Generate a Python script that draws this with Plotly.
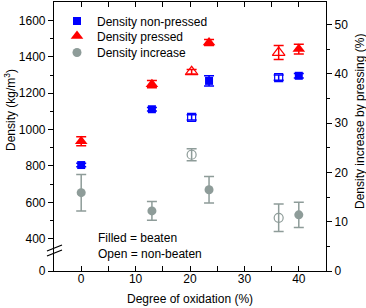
import plotly.graph_objects as go

# ---------------- data ----------------
x_beaten = [0, 13, 23.5, 40]
x_nonbeaten = [20.3, 36.3]

dens_np_beaten = [805, 1112, 1268, 1296]
dens_np_beaten_err = [10, 10, 28, 12]
dens_np_non = [1067, 1286]
dens_np_non_err = [14, 14]

dens_p_beaten = [936, 1250, 1479, 1443]
dens_p_beaten_err = [25, 20, 16, 27]
dens_p_non = [1318, 1424]
dens_p_non_err = [12, 38]

inc_beaten = [15.9, 12.2, 16.5, 11.4]
inc_beaten_err = [3.7, 1.9, 2.7, 2.55]
inc_non = [23.6, 10.8]
inc_non_err = [1.2, 2.8]

left_tickvals = [222, 400, 600, 800, 1000, 1200, 1400, 1600]
left_ticktext = ["0", "400", "600", "800", "1000", "1200", "1400", "1600"]

BLUE = "#0000FF"
RED = "#FF0000"
GREY = "#8E9C99"
FONT = "Liberation Sans, Arial, sans-serif"

def eb(arr, color):
    return dict(type="data", array=arr, visible=True, color=color, thickness=1.5, width=5)

L, R, T, B = 54, 326, 2, 271
W, H = R - L, B - T
def px(x):
    return (x - L) / W
def py(y):
    return (B - y) / H

fig = go.Figure()

# non-pressed
fig.add_trace(go.Scatter(x=x_beaten, y=dens_np_beaten, mode="markers", name="Density non-pressed",
                         legend="legend",
                         marker=dict(symbol="square", size=8, color=BLUE),
                         error_y=eb(dens_np_beaten_err, BLUE)))
fig.add_trace(go.Scatter(x=x_nonbeaten, y=dens_np_non, mode="markers", showlegend=False,
                         marker=dict(symbol="square-open", size=8, color=BLUE, line=dict(width=1.2)),
                         error_y=eb(dens_np_non_err, BLUE)))
# pressed
fig.add_trace(go.Scatter(x=x_beaten, y=dens_p_beaten, mode="markers", name="Density pressed",
                         legend="legend2",
                         marker=dict(symbol="triangle-up", size=11, color=RED),
                         error_y=eb(dens_p_beaten_err, RED)))
fig.add_trace(go.Scatter(x=x_nonbeaten, y=dens_p_non, mode="markers", showlegend=False,
                         marker=dict(symbol="triangle-up-open", size=11, color=RED, line=dict(width=1.2)),
                         error_y=eb(dens_p_non_err, RED)))
# increase
fig.add_trace(go.Scatter(x=x_beaten, y=inc_beaten, mode="markers", name="Density increase", yaxis="y2",
                         legend="legend3",
                         marker=dict(symbol="circle", size=9, color=GREY),
                         error_y=eb(inc_beaten_err, GREY)))
fig.add_trace(go.Scatter(x=x_nonbeaten, y=inc_non, mode="markers", showlegend=False, yaxis="y2",
                         marker=dict(symbol="circle-open", size=9, color=GREY, line=dict(width=1.2)),
                         error_y=eb(inc_non_err, GREY)))

shapes = [
    dict(type="line", xref="paper", yref="paper", x0=px(47), y0=py(251), x1=px(62), y1=py(245),
         line=dict(color="black", width=1.2)),
    dict(type="line", xref="paper", yref="paper", x0=px(47), y0=py(256), x1=px(62), y1=py(250),
         line=dict(color="black", width=1.2)),
]

def leg(top_px):
    return dict(x=px(57), y=py(top_px), xanchor="left", yanchor="top", bgcolor="rgba(0,0,0,0)",
                font=dict(size=12), itemwidth=30)

fig.update_layout(
    width=366, height=308,
    margin=dict(l=L, r=366 - R, t=T, b=308 - B),
    paper_bgcolor="white", plot_bgcolor="white",
    font=dict(family=FONT, size=12, color="black"),
    showlegend=True,
    legend=leg(6.5), legend2=leg(21.5), legend3=leg(38),
    xaxis=dict(range=[-5, 45], tickvals=[0, 10, 20, 30, 40], showline=True, linecolor="black",
               linewidth=1.2, mirror="allticks", ticks="inside", ticklen=5, tickcolor="black",
               showgrid=False, zeroline=False, ticklabelstandoff=-4,
               minor=dict(tickvals=[5, 15, 25, 35], ticks="inside", ticklen=3, tickcolor="black")),
    yaxis=dict(range=[222, 1702], tickvals=left_tickvals, ticktext=left_ticktext, showline=True,
               linecolor="black", linewidth=1.2, ticks="outside", ticklen=5, tickcolor="black",
               showgrid=False, zeroline=False,
               minor=dict(tickvals=[500, 700, 900, 1100, 1300, 1500], ticks="outside", ticklen=3,
                          tickcolor="black")),
    yaxis2=dict(range=[0, 54.6], overlaying="y", side="right", tickvals=[0, 10, 20, 30, 40, 50],
                showline=True, linecolor="black", linewidth=1.2, ticks="outside", ticklen=5,
                tickcolor="black", showgrid=False, zeroline=False,
                minor=dict(tickvals=[5, 15, 25, 35, 45], ticks="outside", ticklen=3, tickcolor="black")),
    shapes=shapes,
    annotations=[
        dict(xref="paper", yref="paper", x=px(96), y=py(245.5), xanchor="left",
             yanchor="middle", align="left", showarrow=False,
             text="Filled = beaten<br>Open = non-beaten", font=dict(size=12)),
        dict(xref="paper", yref="paper", x=px(190), y=py(298.5), xanchor="center", yanchor="middle",
             showarrow=False, text="Degree of oxidation (%)", font=dict(size=12)),
        dict(xref="paper", yref="paper", x=px(10), y=py(110), xanchor="center", yanchor="middle",
             showarrow=False, textangle=-90, text="Density (kg/m<sup>3</sup>)", font=dict(size=12)),
        dict(xref="paper", yref="paper", x=px(360), y=py(122), xanchor="center", yanchor="middle",
             showarrow=False, textangle=-90, text="Density increase by pressing (%)",
             font=dict(size=12)),
    ],
)

fig.write_html("out.html", config={"displayModeBar": False},
               post_script="document.body.style.margin='0';document.body.style.padding='0';")
